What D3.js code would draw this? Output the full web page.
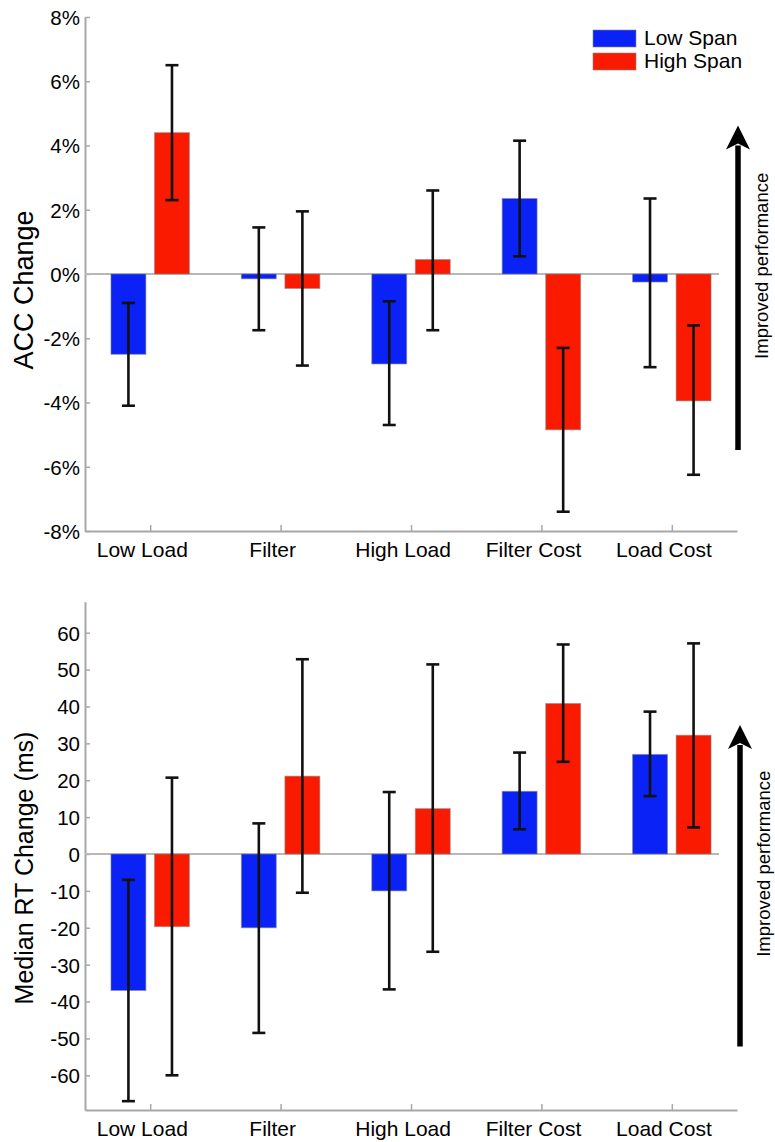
<!DOCTYPE html>
<html>
<head>
<meta charset="utf-8">
<script src="https://cdn.jsdelivr.net/npm/d3@7"></script>
<style>
    body { margin: 0; background: #fff; }
    text { font-family: "Liberation Sans", Arial, Helvetica, sans-serif; fill: #000; }
</style>
</head>
<body>
<div id="wrapper"></div>
<script>
const categories = ["Low Load", "Filter", "High Load", "Filter Cost", "Load Cost"]
const seriesNames = ["Low Span", "High Span"]
const seriesColors = ["#0a22f5", "#f91a00"]

// accuracy change (%)
const accLow = [-2.5, -0.15, -2.8, 2.35, -0.25]
const accLowLo = [-4.1, -1.75, -4.7, 0.55, -2.9]
const accLowHi = [-0.9, 1.45, -0.85, 4.15, 2.35]
const accHigh = [4.4, -0.45, 0.45, -4.85, -3.95]
const accHighLo = [2.3, -2.85, -1.75, -7.4, -6.25]
const accHighHi = [6.5, 1.95, 2.6, -2.3, -1.6]
const accTicks = [-8, -6, -4, -2, 0, 2, 4, 6, 8]

// median RT change (ms)
const rtLow = [-37, -20, -10, 17, 27]
const rtLowLo = [-67, -48.5, -36.7, 6.7, 15.7]
const rtLowHi = [-7, 8.3, 16.8, 27.5, 38.6]
const rtHigh = [-19.7, 21.1, 12.3, 40.8, 32.2]
const rtHighLo = [-60, -10.5, -26.5, 25, 7.2]
const rtHighHi = [20.7, 52.8, 51.4, 56.8, 57.1]
const rtTicks = [-60, -50, -40, -30, -20, -10, 0, 10, 20, 30, 40, 50, 60]

const svg = d3.select("#wrapper")
    .append("svg")
    .attr("width", 775)
    .attr("height", 1142)

function makeRows(low, lowLo, lowHi, high, highLo, highHi) {
    return categories.flatMap((c, i) => [
        { cat: i + 1, s: 0, v: low[i], lo: lowLo[i], hi: lowHi[i] },
        { cat: i + 1, s: 1, v: high[i], lo: highLo[i], hi: highHi[i] },
    ])
}

function drawPanel(opts) {
    const dims = opts.dims
    const g = svg.append("g")
        .attr("transform", `translate(${dims.left}, ${dims.top})`)

    const xScale = d3.scaleLinear()
        .domain([0.5, categories.length + 0.5])
        .range([0, dims.width])
    const yScale = d3.scaleLinear()
        .domain(opts.domain)
        .range([dims.height, 0])

    const offset = 0.167
    const barW = xScale(0.268) - xScale(0)

    // y axis
    const yAxis = g.append("g")
        .call(d3.axisLeft(yScale)
            .tickValues(opts.ticks)
            .tickFormat(opts.format)
            .tickSize(-5)
            .tickSizeOuter(0)
            .tickPadding(5))
    yAxis.selectAll("text").style("font-size", "20.5px").attr("dy", "0.36em")

    // x axis
    const xAxis = g.append("g")
        .attr("transform", `translate(0, ${dims.height})`)
        .call(d3.axisBottom(xScale)
            .tickValues(categories.map((c, i) => i + 1))
            .tickFormat((d, i) => categories[i])
            .tickSize(-6)
            .tickSizeOuter(0)
            .tickPadding(11))
    xAxis.selectAll("text").style("font-size", "21px").attr("dx", "-0.4em")

    g.selectAll(".domain").attr("stroke", "#a8a8a8").attr("stroke-width", 2)
    g.selectAll(".tick line").attr("stroke", "#a8a8a8").attr("stroke-width", 1.5)

    // zero line
    g.append("line")
        .attr("x1", 0)
        .attr("x2", dims.width - 18)
        .attr("y1", yScale(0))
        .attr("y2", yScale(0))
        .attr("stroke", "#b8b8b8")
        .attr("stroke-width", 2)

    const rows = opts.rows
    const cx = d => xScale(d.cat + (d.s === 0 ? -offset : offset))

    g.append("g")
        .selectAll("rect")
        .data(rows)
        .enter()
        .append("rect")
        .attr("x", d => cx(d) - barW / 2)
        .attr("width", barW)
        .attr("y", d => yScale(Math.max(0, d.v)))
        .attr("height", d => Math.abs(yScale(d.v) - yScale(0)))
        .attr("fill", d => seriesColors[d.s])
        .attr("stroke", "#8a8a8a")
        .attr("stroke-opacity", 0.6)
        .attr("stroke-width", 1)

    // error bars
    const err = g.append("g")
        .attr("stroke", "#111")
        .attr("stroke-width", 2.6)
    err.selectAll(".stem")
        .data(rows)
        .enter()
        .append("line")
        .attr("x1", cx).attr("x2", cx)
        .attr("y1", d => yScale(d.lo))
        .attr("y2", d => yScale(d.hi))
    err.selectAll(".cap")
        .data(rows.flatMap(d => [{ d: d, v: d.lo }, { d: d, v: d.hi }]))
        .enter()
        .append("line")
        .attr("x1", e => cx(e.d) - 6.5)
        .attr("x2", e => cx(e.d) + 6.5)
        .attr("y1", e => yScale(e.v))
        .attr("y2", e => yScale(e.v))

    // y label
    g.append("text")
        .attr("transform", `translate(${opts.labelX}, ${yScale(opts.labelAt)}) rotate(-90)`)
        .attr("text-anchor", "middle")
        .style("font-size", opts.labelSize)
        .text(opts.label)

    // improved performance arrow
    const ax = dims.width + opts.arrowDx
    const top = yScale(opts.arrowTop)
    const bottom = yScale(opts.arrowBottom)
    g.append("line")
        .attr("x1", ax).attr("x2", ax)
        .attr("y1", top + 20)
        .attr("y2", bottom)
        .attr("stroke", "#000")
        .attr("stroke-width", 5.5)
    g.append("path")
        .attr("d", `M${ax},${top} L${ax + 12},${top + 24} L${ax},${top + 18} L${ax - 12},${top + 24} Z`)
        .attr("fill", "#000")
    g.append("text")
        .attr("transform", `translate(${ax + 30}, ${(top + bottom) / 2 - 22}) rotate(-90)`)
        .attr("text-anchor", "middle")
        .style("font-size", "18.5px")
        .text("Improved performance")

    return g
}

const accPanel = drawPanel({
    dims: { top: 17, left: 85, width: 652, height: 514 },
    domain: [-8, 8],
    ticks: accTicks,
    format: d => d + "%",
    rows: makeRows(accLow, accLowLo, accLowHi, accHigh, accHighLo, accHighHi),
    label: "ACC Change",
    labelX: -52,
    labelAt: -0.5,
    labelSize: "27px",
    arrowDx: 1,
    arrowTop: 4.62,
    arrowBottom: -5.48,
})

drawPanel({
    dims: { top: 601.7, left: 85, width: 652, height: 508.3 },
    domain: [-69.4, 68.4],
    ticks: rtTicks,
    format: d => d,
    rows: makeRows(rtLow, rtLowLo, rtLowHi, rtHigh, rtHighLo, rtHighHi),
    label: "Median RT Change (ms)",
    labelX: -52,
    labelAt: -3.8,
    labelSize: "25px",
    arrowDx: 3,
    arrowTop: 35,
    arrowBottom: -52.2,
})

// legend
const legend = accPanel.append("g")
    .attr("transform", "translate(508, 13)")
legend.selectAll("rect")
    .data(seriesNames)
    .enter()
    .append("rect")
    .attr("x", 0)
    .attr("y", (d, i) => i * 23)
    .attr("width", 43)
    .attr("height", 17)
    .attr("fill", (d, i) => seriesColors[i])
    .attr("stroke", "#8a8a8a")
    .attr("stroke-opacity", 0.6)
legend.selectAll("text")
    .data(seriesNames)
    .enter()
    .append("text")
    .attr("x", 51)
    .attr("y", (d, i) => i * 23 + 15)
    .style("font-size", "21px")
    .text(d => d)
</script>
</body>
</html>
